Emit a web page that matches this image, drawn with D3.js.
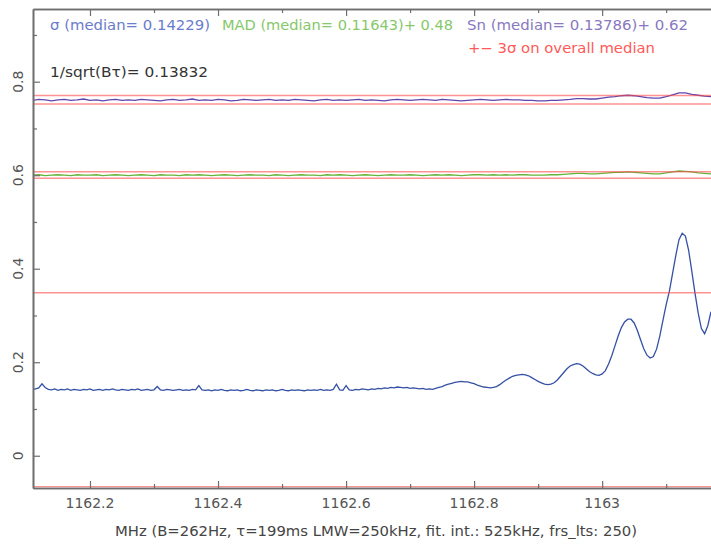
<!DOCTYPE html>
<html>
<head>
<meta charset="utf-8">
<script src="https://cdn.jsdelivr.net/npm/d3@7/dist/d3.min.js"></script>
<style>
  html, body { margin: 0; padding: 0; background: #fff; }
  svg { display: block; }
  text { font-family: "DejaVu Sans", sans-serif; }
</style>
</head>
<body>
<svg id="chart" width="711" height="545"></svg>
<script>
// ---- data ----
// frequency grids (MHz)
const sigmaStart = 1162.11, sigmaStep = 0.005;
const robustStart = 1162.11, robustStep = 0.01;

// rms (sigma) per channel
const sigmaVals = [
  0.141,0.143,0.145,0.154,0.146,0.142,0.141,0.143,0.140,0.142,
  0.141,0.143,0.140,0.142,0.141,0.140,0.142,0.141,0.143,0.140,
  0.141,0.142,0.140,0.142,0.141,0.143,0.141,0.140,0.142,0.141,
  0.140,0.142,0.141,0.143,0.140,0.141,0.142,0.140,0.141,0.148,
  0.141,0.140,0.142,0.141,0.140,0.141,0.142,0.140,0.141,0.140,
  0.142,0.141,0.150,0.141,0.140,0.141,0.139,0.141,0.140,0.142,
  0.140,0.139,0.141,0.140,0.141,0.139,0.140,0.142,0.140,0.139,
  0.141,0.140,0.139,0.141,0.140,0.141,0.139,0.140,0.142,0.140,
  0.139,0.141,0.140,0.141,0.140,0.139,0.141,0.140,0.141,0.140,
  0.142,0.140,0.141,0.140,0.142,0.153,0.141,0.140,0.150,0.141,
  0.140,0.142,0.141,0.143,0.142,0.141,0.143,0.142,0.144,0.143,
  0.145,0.144,0.146,0.145,0.147,0.146,0.145,0.146,0.144,0.145,
  0.144,0.143,0.144,0.142,0.143,0.142,0.144,0.146,0.148,0.151,
  0.153,0.155,0.157,0.158,0.159,0.158,0.158,0.156,0.154,0.151,
  0.149,0.147,0.146,0.145,0.146,0.148,0.152,0.157,0.162,0.166,
  0.170,0.172,0.173,0.174,0.173,0.171,0.167,0.163,0.159,0.156,
  0.153,0.152,0.153,0.156,0.162,0.170,0.178,0.186,0.192,0.195,
  0.197,0.196,0.192,0.186,0.180,0.176,0.173,0.172,0.175,0.182,
  0.196,0.214,0.235,0.256,0.274,0.286,0.292,0.292,0.284,0.268,
  0.248,0.229,0.215,0.209,0.212,0.228,0.256,0.290,0.323,0.352,
  0.390,0.428,0.462,0.476,0.470,0.440,0.395,0.348,0.305,0.272,
  0.261,0.278,0.308
];

// Sn estimator, offset by +0.62
const snVals = [
  0.760,0.762,0.761,0.759,0.761,0.762,0.760,0.761,0.763,0.760,
  0.761,0.759,0.761,0.762,0.760,0.761,0.760,0.762,0.761,0.760,
  0.759,0.761,0.762,0.760,0.761,0.763,0.760,0.761,0.760,0.762,
  0.761,0.759,0.760,0.762,0.761,0.760,0.761,0.762,0.760,0.761,
  0.760,0.762,0.761,0.760,0.759,0.761,0.762,0.760,0.761,0.760,
  0.761,0.762,0.760,0.761,0.760,0.759,0.761,0.762,0.761,0.760,
  0.761,0.762,0.761,0.760,0.762,0.761,0.760,0.759,0.760,0.761,
  0.762,0.761,0.760,0.761,0.762,0.761,0.761,0.760,0.760,0.759,
  0.759,0.760,0.760,0.761,0.762,0.764,0.764,0.763,0.763,0.765,
  0.767,0.768,0.770,0.771,0.770,0.768,0.766,0.765,0.765,0.768,
  0.772,0.776,0.776,0.773,0.771,0.769,0.768
];

// MAD estimator, offset by +0.48
const madVals = [
  0.600,0.601,0.599,0.600,0.601,0.600,0.599,0.601,0.600,0.600,
  0.601,0.599,0.600,0.601,0.600,0.599,0.600,0.601,0.600,0.599,
  0.601,0.600,0.600,0.599,0.601,0.600,0.601,0.600,0.599,0.600,
  0.601,0.600,0.599,0.600,0.601,0.600,0.600,0.599,0.601,0.600,
  0.599,0.600,0.601,0.600,0.600,0.599,0.601,0.600,0.601,0.600,
  0.599,0.600,0.601,0.600,0.599,0.600,0.601,0.600,0.600,0.601,
  0.600,0.599,0.600,0.601,0.600,0.601,0.600,0.599,0.600,0.601,
  0.601,0.600,0.601,0.600,0.601,0.600,0.601,0.601,0.600,0.600,
  0.600,0.601,0.601,0.602,0.603,0.604,0.604,0.603,0.603,0.604,
  0.605,0.606,0.606,0.607,0.606,0.605,0.604,0.603,0.603,0.605,
  0.607,0.609,0.608,0.607,0.605,0.604,0.603
];

// +- 3 sigma limits around each overall median
const limitVals = [0.7705, 0.7523, 0.6075, 0.5934, 0.3487, -0.0661];

const xMajor = [1162.2, 1162.4, 1162.6, 1162.8, 1163];
const xMinor = [1162.3, 1162.5, 1162.7, 1162.9, 1163.1];
const xLabels = ["1162.2", "1162.4", "1162.6", "1162.8", "1163"];
const yMajor = [0, 0.2, 0.4, 0.6, 0.8];
const yMinor = [0.1, 0.3, 0.5, 0.7, 0.9];
const yLabels = ["0", "0.2", "0.4", "0.6", "0.8"];

const legendTexts = [
  "σ (median= 0.14229)",
  "MAD (median= 0.11643)+ 0.48",
  "Sn (median= 0.13786)+ 0.62",
  "+− 3σ on overall median",
  "1/sqrt(Bτ)= 0.13832"
];
const xTitle = "MHz (B=262Hz, τ=199ms LMW=250kHz, fit. int.: 525kHz, frs_lts: 250)";

// ---- layout ----
const plotL = 33, plotR = 711, plotT = 9, plotB = 488;
const axisColor = "#6e6e6e";

const svg = d3.select("#chart");

const x = d3.scaleLinear().domain([1162.111, 1163.17]).range([plotL, plotR]);
const y = d3.scaleLinear().domain([-0.069, 0.9555]).range([plotB, plotT]);

svg.append("defs").append("clipPath").attr("id", "plotClip")
  .append("rect").attr("x", plotL).attr("y", plotT)
  .attr("width", plotR - plotL).attr("height", plotB - plotT);

const plot = svg.append("g").attr("clip-path", "url(#plotClip)");

const sigmaData = sigmaVals.map((v, i) => [sigmaStart + sigmaStep * i, v]);
const snData = snVals.map((v, i) => [robustStart + robustStep * i, v]);
const madData = madVals.map((v, i) => [robustStart + robustStep * i, v]);

const line = d3.line().x(d => x(d[0])).y(d => y(d[1]));

plot.append("path").datum(sigmaData)
  .attr("d", line).attr("fill", "none")
  .attr("stroke", "#3550a4").attr("stroke-width", 1.3);
plot.append("path").datum(snData)
  .attr("d", line).attr("fill", "none")
  .attr("stroke", "#5f45ad").attr("stroke-width", 1.3);
plot.append("path").datum(madData)
  .attr("d", line).attr("fill", "none")
  .attr("stroke", "#62b43a").attr("stroke-width", 1.3);

// limit lines drawn over the curves
plot.selectAll("line.limit").data(limitVals).enter().append("line")
  .attr("class", "limit")
  .attr("x1", plotL).attr("x2", plotR)
  .attr("y1", d => y(d)).attr("y2", d => y(d))
  .attr("stroke", "#ff4a4a").attr("stroke-opacity", 0.6)
  .attr("stroke-width", 1.4);

// ---- axes ----
function styleAxis(g) {
  g.select(".domain").attr("stroke", axisColor).attr("stroke-width", 1.6);
  g.selectAll(".tick line").attr("stroke", axisColor).attr("stroke-width", 1.2);
  g.selectAll(".tick text").remove();
}

svg.append("g").attr("transform", `translate(0,${plotB})`)
  .call(d3.axisBottom(x).tickValues(xMajor).tickSizeInner(-7).tickSizeOuter(0))
  .call(styleAxis);
svg.append("g").attr("transform", `translate(0,${plotB})`)
  .call(d3.axisBottom(x).tickValues(xMinor).tickSizeInner(-4).tickSizeOuter(0))
  .call(styleAxis);
svg.append("g").attr("transform", `translate(0,${plotT})`)
  .call(d3.axisTop(x).tickValues(xMajor).tickSizeInner(-7).tickSizeOuter(0))
  .call(styleAxis);
svg.append("g").attr("transform", `translate(0,${plotT})`)
  .call(d3.axisTop(x).tickValues(xMinor).tickSizeInner(-4).tickSizeOuter(0))
  .call(styleAxis);
svg.append("g").attr("transform", `translate(${plotL},0)`)
  .call(d3.axisLeft(y).tickValues(yMajor).tickSizeInner(-7).tickSizeOuter(0))
  .call(styleAxis);
svg.append("g").attr("transform", `translate(${plotL},0)`)
  .call(d3.axisLeft(y).tickValues(yMinor).tickSizeInner(-4).tickSizeOuter(0))
  .call(styleAxis);

// tick labels
svg.selectAll("text.xlab").data(xMajor).enter().append("text")
  .attr("class", "xlab")
  .attr("x", d => x(d)).attr("y", 508)
  .attr("text-anchor", "middle")
  .attr("font-size", 14).attr("fill", "#555")
  .text((d, i) => xLabels[i]);

svg.selectAll("text.ylab").data(yMajor).enter().append("text")
  .attr("class", "ylab")
  .attr("transform", d => `translate(23,${y(d)}) rotate(-90)`)
  .attr("text-anchor", "middle")
  .attr("font-size", 14).attr("fill", "#555")
  .text((d, i) => yLabels[i]);

// axis title
svg.append("text")
  .attr("x", 115).attr("y", 536)
  .attr("font-size", 14).attr("fill", "#444")
  .attr("textLength", 522).attr("lengthAdjust", "spacingAndGlyphs")
  .text(xTitle);

// legend block
const legend = [
  { t: legendTexts[0], x: 50,  y: 30, w: 160, c: "#6a7ccc" },
  { t: legendTexts[1], x: 222, y: 30, w: 231, c: "#86c86a" },
  { t: legendTexts[2], x: 467, y: 30, w: 221, c: "#8878c0" },
  { t: legendTexts[3], x: 468, y: 53, w: 187, c: "#ff5a5a" },
  { t: legendTexts[4], x: 50,  y: 77, w: 158, c: "#333" }
];
svg.selectAll("text.leg").data(legend).enter().append("text")
  .attr("class", "leg")
  .attr("x", d => d.x).attr("y", d => d.y)
  .attr("font-size", 14).attr("fill", d => d.c)
  .attr("textLength", d => d.w).attr("lengthAdjust", "spacingAndGlyphs")
  .text(d => d.t);
</script>
</body>
</html>
